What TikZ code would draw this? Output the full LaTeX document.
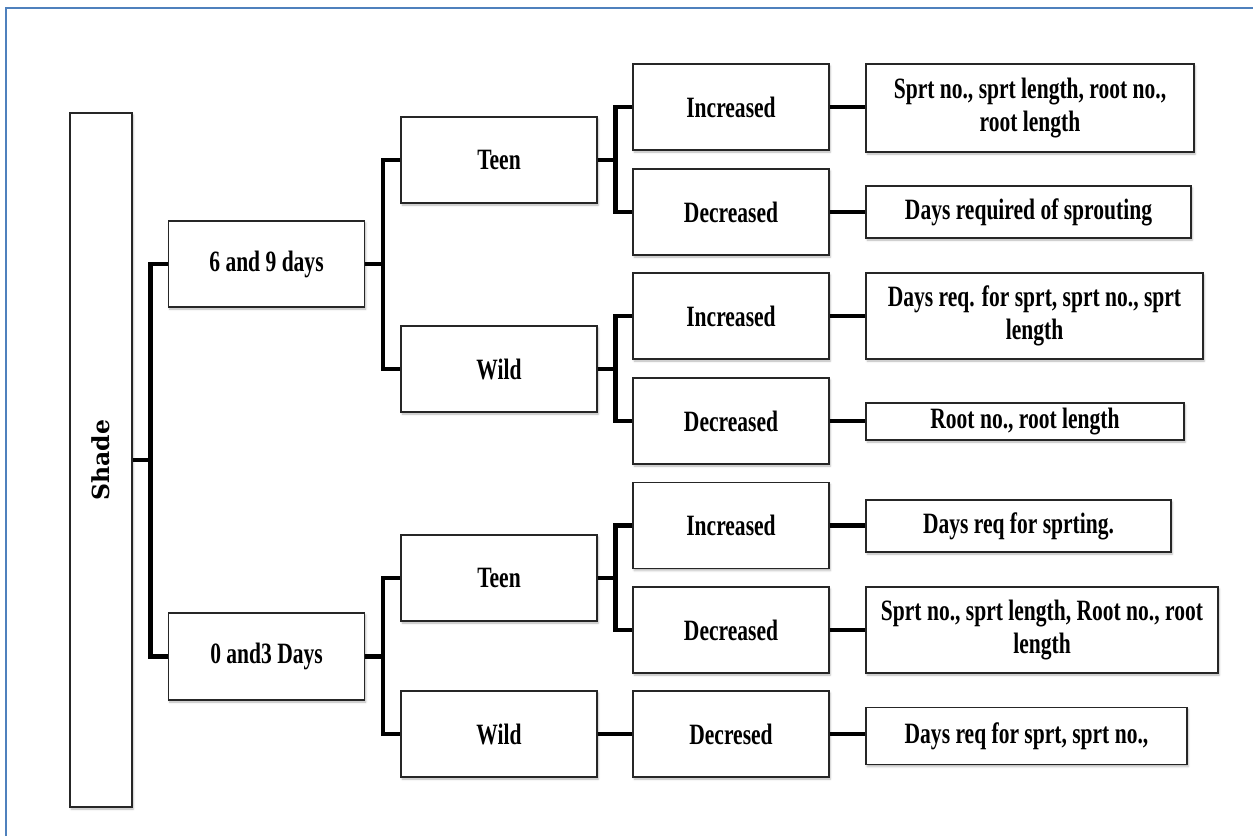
\documentclass[tikz,border=0pt]{standalone}
\usepackage{fontspec}
\setmainfont{Liberation Serif}[FakeStretch=0.73]
\newfontfamily\shadefont{DejaVu Serif}
\usetikzlibrary{calc,shadows.blur}
\definecolor{frameblue}{RGB}{79,129,189}
\tikzset{
  box/.style={draw=black!85, line width=1.2pt, fill=white, inner sep=0pt, align=center,
    font=\bfseries\fontsize{29.5pt}{33pt}\selectfont,
    blur shadow={shadow xshift=1.2pt, shadow yshift=-2pt, shadow blur radius=2pt, shadow opacity=30}},
  conn/.style={line width=4.4pt, black, line join=miter}
}
\begin{document}
\begin{tikzpicture}[x=1pt,y=-1pt]
\useasboundingbox (0,0) rectangle (1253,836);
\draw[frameblue, line width=2pt] (5.5,836) -- (5.5,7.5) -- (1253,7.5);

\node[box, minimum width=62pt, minimum height=694pt] (shade) at (101,460)
  {\rotatebox{90}{\shadefont\bfseries\fontsize{23.5pt}{25pt}\selectfont Shade}};

\node[box, minimum width=196pt, minimum height=86pt] (d69) at (266.5,264) {6 and 9 days};
\node[box, minimum width=196pt, minimum height=87pt] (d03) at (266.5,656.5) {0 and3 Days};

\node[box, minimum width=196pt, minimum height=86pt] (teen1) at (499,160) {Teen};
\node[box, minimum width=196pt, minimum height=86pt] (wild1) at (499,369) {Wild};
\node[box, minimum width=196pt, minimum height=86pt] (teen2) at (499,578) {Teen};
\node[box, minimum width=196pt, minimum height=86pt] (wild2) at (499,734) {Wild};

\node[box, minimum width=196pt, minimum height=86pt] (inc1) at (731,107) {Increased};
\node[box, minimum width=196pt, minimum height=86pt] (dec1) at (731,212) {Decreased};
\node[box, minimum width=196pt, minimum height=86pt] (inc2) at (731,316) {Increased};
\node[box, minimum width=196pt, minimum height=86pt] (dec2) at (731,421) {Decreased};
\node[box, minimum width=196pt, minimum height=86pt] (inc3) at (731,525.5) {Increased};
\node[box, minimum width=196pt, minimum height=86pt] (dec3) at (731,630) {Decreased};
\node[box, minimum width=196pt, minimum height=86pt] (dcr) at (731,734) {Decresed};

\node[box, minimum width=328pt, minimum height=88pt] (r1) at (1030,108) {Sprt no., sprt length, root no.,\\root length};
\node[box, minimum width=325pt, minimum height=52pt] (r2) at (1028.5,212) {Days required of sprouting};
\node[box, minimum width=337pt, minimum height=86pt] (r3) at (1034.5,316) {Days req. for sprt, sprt no., sprt\\length};
\node[box, minimum width=318pt, minimum height=37pt] (r4) at (1025,421.5) {Root no., root length};
\node[box, minimum width=305pt, minimum height=52pt] (r5) at (1018.5,526) {Days req for sprting.};
\node[box, minimum width=352pt, minimum height=86pt] (r6) at (1042,630) {Sprt no., sprt length, Root no., root\\length};
\node[box, minimum width=321pt, minimum height=57pt] (r7) at (1026.5,736) {Days req for sprt, sprt no.,};

% level 1
\coordinate (j0) at ($(shade.east)+(18,0)$);
\draw[conn] (shade.east) -- (j0);
\draw[conn] (d69.west) -| (j0) |- (d03.west);
% level 2
\coordinate (j1) at ($(d69.east)+(18,0)$);
\draw[conn] (d69.east) -- (j1);
\draw[conn] (teen1.west) -| (j1) |- (wild1.west);
\coordinate (j2) at ($(d03.east)+(18,0)$);
\draw[conn] (d03.east) -- (j2);
\draw[conn] (teen2.west) -| (j2) |- (wild2.west);
% level 3
\coordinate (j3) at ($(teen1.east)+(18,0)$);
\draw[conn] (teen1.east) -- (j3);
\draw[conn] (inc1.west) -| (j3) |- (dec1.west);
\coordinate (j4) at ($(wild1.east)+(18,0)$);
\draw[conn] (wild1.east) -- (j4);
\draw[conn] (inc2.west) -| (j4) |- (dec2.west);
\coordinate (j5) at ($(teen2.east)+(18,0)$);
\draw[conn] (teen2.east) -- (j5);
\draw[conn] (inc3.west) -| (j5) |- (dec3.west);
\draw[conn] (wild2.east) -- (dcr.west);
% level 4
\draw[conn] (inc1.east) -- (inc1.east -| r1.west);
\draw[conn] (dec1.east) -- (dec1.east -| r2.west);
\draw[conn] (inc2.east) -- (inc2.east -| r3.west);
\draw[conn] (dec2.east) -- (dec2.east -| r4.west);
\draw[conn] (inc3.east) -- (inc3.east -| r5.west);
\draw[conn] (dec3.east) -- (dec3.east -| r6.west);
\draw[conn] (dcr.east) -- (dcr.east -| r7.west);
\end{tikzpicture}
\end{document}
